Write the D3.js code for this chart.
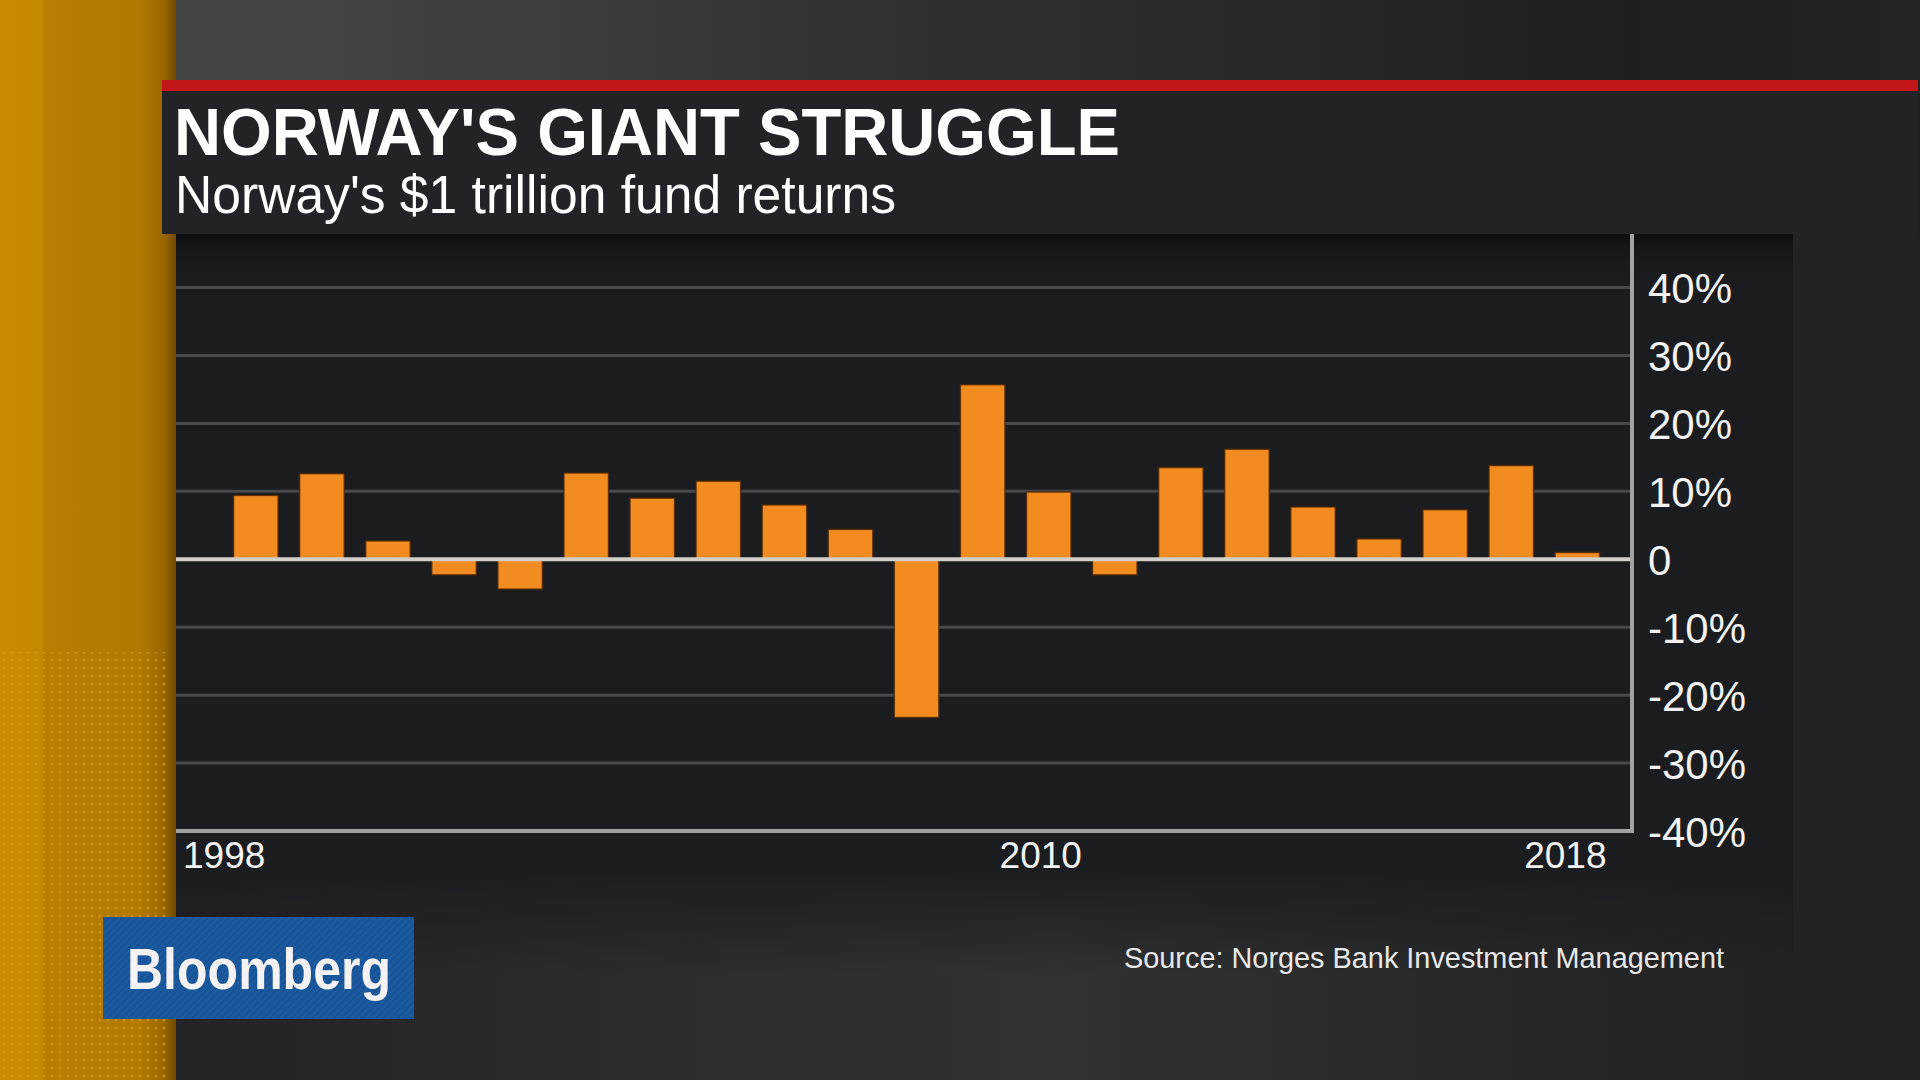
<!DOCTYPE html>
<html><head><meta charset="utf-8">
<script src="https://cdn.jsdelivr.net/npm/d3@7"></script>
<style>html,body{margin:0;padding:0;background:#262728;overflow:hidden}</style>
</head><body><svg id="c" width="1920" height="1080"></svg>
<script>
// ---- data ----
const years = [1998,1999,2000,2001,2002,2003,2004,2005,2006,2007,2008,2009,2010,2011,2012,2013,2014,2015,2016,2017,2018];
const returns = [9.4,12.6,2.7,-2.3,-4.4,12.7,9.0,11.5,8.0,4.4,-23.3,25.7,9.9,-2.3,13.5,16.2,7.7,3.0,7.3,13.8,1.0];
const yTicks = [40,30,20,10,0,-10,-20,-30,-40];
const xLabels = [1998,2010,2018];
const titleText = "NORWAY'S GIANT STRUGGLE";
const subtitleText = "Norway's $1 trillion fund returns";
const sourceText = "Source: Norges Bank Investment Management";
const logoText = "Bloomberg";

// ---- layout ----
const svg = d3.select("#c");
const W = 1920, H = 1080;
const plot = {left:176, right:1632, top:287.5, bottom:831};
const FONT = "'Liberation Sans', Arial, Helvetica, sans-serif";

const defs = svg.append("defs");
function lin(id, x1, y1, x2, y2, stops){
  const g = defs.append("linearGradient").attr("id", id)
    .attr("x1",x1).attr("y1",y1).attr("x2",x2).attr("y2",y2);
  stops.forEach(s => g.append("stop").attr("offset", s[0]).attr("stop-color", s[1]).attr("stop-opacity", s[2]===undefined?1:s[2]));
}
lin("topH", 0,0,1,0, [[0,"#3a3b3b"],[0.12,"#444545"],[0.3,"#3c3d3d"],[0.45,"#303131"],[0.7,"#262727"],[0.85,"#1d1e1e"],[1,"#232424"]]);
lin("bottomBg", 0,0,1,0, [[0,"#1f2021"],[0.3,"#2a2b2c"],[0.55,"#303132"],[0.8,"#262728"],[1,"#1f2020"]]);
lin("gold", 0,0,1,0, [[0,"#c98c02"],[0.24,"#c68800"],[0.25,"#b97e00"],[0.8,"#b27900"],[0.93,"#9a6800"],[1,"#6f4a00"]]);
lin("shadowTop", 0,0,0,1, [[0,"#0e0f12",1],[1,"#1b1c1f",0]]);
lin("fadeBottom", 0,0,0,1, [[0,"#1b1c1f",0],[1,"#1b1c1f",1]]);

const dots = defs.append("pattern").attr("id","dots").attr("width",8).attr("height",8).attr("patternUnits","userSpaceOnUse");
dots.append("circle").attr("cx",4).attr("cy",4).attr("r",1.6).attr("fill","#e0a420").attr("opacity",0.55);
const stripes = defs.append("pattern").attr("id","stripes").attr("width",5).attr("height",5)
  .attr("patternUnits","userSpaceOnUse").attr("patternTransform","rotate(45)");
stripes.append("rect").attr("width",2).attr("height",5).attr("fill","#0f4a8c").attr("opacity",0.5);

// background: top band and lower region
svg.append("rect").attr("width",W).attr("height",H).attr("fill","url(#bottomBg)");
svg.append("rect").attr("x",0).attr("y",0).attr("width",W).attr("height",92).attr("fill","url(#topH)");
// right strip beside chart
svg.append("rect").attr("x",1793).attr("y",234).attr("width",127).attr("height",H-234).attr("fill","#222324");

// gold strip
svg.append("rect").attr("x",0).attr("y",0).attr("width",176).attr("height",H).attr("fill","url(#gold)");
svg.append("rect").attr("x",0).attr("y",652).attr("width",170).attr("height",H-652).attr("fill","url(#dots)");

// title panel + red line
svg.append("rect").attr("x",162).attr("y",91).attr("width",1756).attr("height",143).attr("fill","#222327");
svg.append("rect").attr("x",162).attr("y",80).attr("width",1756).attr("height",11).attr("fill","#c2161b");

// chart panel (fades out at the bottom)
svg.append("rect").attr("x",176).attr("y",234).attr("width",1617).attr("height",630).attr("fill","#1b1c1f");
svg.append("rect").attr("x",176).attr("y",864).attr("width",1617).attr("height",110).attr("fill","url(#fadeBottom)")
  .attr("transform","translate(0,1838) scale(1,-1)");
svg.append("rect").attr("x",176).attr("y",234).attr("width",1617).attr("height",50).attr("fill","url(#shadowTop)");

// titles
svg.append("text").attr("x",174).attr("y",155).text(titleText)
  .attr("font-family",FONT).attr("font-weight","bold").attr("font-size",66).attr("fill","#ffffff")
  .attr("textLength",946).attr("lengthAdjust","spacingAndGlyphs");
svg.append("text").attr("x",175).attr("y",213).text(subtitleText)
  .attr("font-family",FONT).attr("font-size",53).attr("fill","#ffffff")
  .attr("textLength",721).attr("lengthAdjust","spacingAndGlyphs");

// scales
const x = d3.scaleBand().domain(years).range([plot.left, plot.right])
  .paddingInner(0.325).paddingOuter(0.68).align(0.64);
const y = d3.scaleLinear().domain([-40, 40]).range([plot.bottom, plot.top]);

// gridlines
svg.append("g").selectAll("line").data(yTicks.filter(t => t !== 0 && t !== -40)).join("line")
  .attr("x1",plot.left).attr("x2",plot.right).attr("y1",d=>y(d)).attr("y2",d=>y(d))
  .attr("stroke","#48494c").attr("stroke-width",3);

// bars
svg.append("g").selectAll("rect").data(years).join("rect")
  .attr("x", (d)=>x(d))
  .attr("width", x.bandwidth())
  .attr("y", (d,i)=>y(Math.max(0, returns[i])))
  .attr("height", (d,i)=>Math.abs(y(returns[i]) - y(0)))
  .attr("fill","#f28b20")
  .attr("stroke","#4a2404").attr("stroke-width",1.5).attr("stroke-opacity",0.8);

// zero line
svg.append("line").attr("x1",plot.left).attr("x2",plot.right).attr("y1",y(0)).attr("y2",y(0))
  .attr("stroke","#d2cec8").attr("stroke-width",4);
// bottom axis line
svg.append("line").attr("x1",plot.left).attr("x2",plot.right+2).attr("y1",y(-40)).attr("y2",y(-40))
  .attr("stroke","#a2a2a4").attr("stroke-width",4);
// right axis line
svg.append("line").attr("x1",plot.right).attr("x2",plot.right).attr("y1",234).attr("y2",y(-40)+2)
  .attr("stroke","#a2a2a4").attr("stroke-width",4);

// y axis labels
const yAxis = d3.axisRight(y).tickValues(yTicks).tickSize(0).tickPadding(16)
  .tickFormat(d => d === 0 ? "0" : d + "%");
const gy = svg.append("g").attr("transform",`translate(${plot.right},0)`).call(yAxis);
gy.select(".domain").remove();
gy.selectAll("text").attr("font-family",FONT).attr("font-size",42).attr("fill","#f2f2f2")
  .attr("dy","0.36em");

// x labels
const xOff = {1998: null, 2010: -8, 2018: -12};
svg.append("g").selectAll("text").data(xLabels).join("text")
  .attr("x", d => d === 1998 ? plot.left + 7 : x(d) + x.bandwidth()/2 + xOff[d])
  .attr("y", 868)
  .attr("text-anchor", d => d === 1998 ? "start" : "middle")
  .attr("font-family",FONT).attr("font-size",37).attr("fill","#f2f2f2")
  .text(d => d);

// source
svg.append("text").attr("x",1124).attr("y",968).text(sourceText)
  .attr("font-family",FONT).attr("font-size",30).attr("fill","#e8e8e8")
  .attr("textLength",600).attr("lengthAdjust","spacingAndGlyphs");

// Bloomberg logo
svg.append("rect").attr("x",103).attr("y",917).attr("width",311).attr("height",102).attr("fill","#1c5aa0");
svg.append("rect").attr("x",103).attr("y",917).attr("width",311).attr("height",102).attr("fill","url(#stripes)");
svg.append("text").attr("x",127).attr("y",989).text(logoText)
  .attr("font-family",FONT).attr("font-weight","bold").attr("font-size",58).attr("fill","#f4f2f2")
  .attr("textLength",264).attr("lengthAdjust","spacingAndGlyphs");
</script></body></html>
